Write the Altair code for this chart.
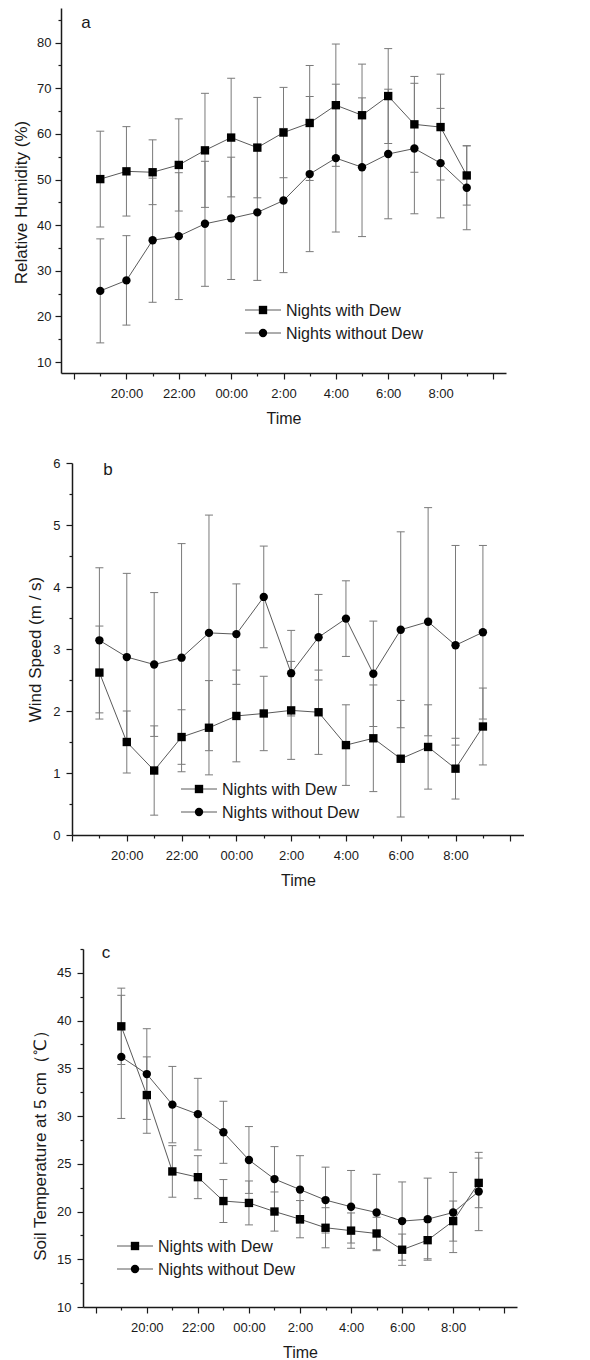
import altair as alt
import pandas as pd

# Hour of observation (19:00 on the first evening through 9:00 next morning)
hours = [19, 20, 21, 22, 23, 24, 25, 26, 27, 28, 29, 30, 31, 32, 33]
series_names = ["Nights with Dew", "Nights without Dew"]

# x-axis labels
tick_hours = [20, 22, 24, 26, 28, 30, 32]
tick_labels = ["20:00", "22:00", "00:00", "2:00", "4:00", "6:00", "8:00"]

# (a) relative humidity, % : mean and standard deviation
rh_dew = [50.1, 51.8, 51.6, 53.2, 56.4, 59.2, 57.0, 60.3, 62.4, 66.3, 64.1, 68.3, 62.1, 61.5, 50.9]
rh_dew_sd = [10.5, 9.8, 7.1, 10.1, 12.5, 13.0, 11.0, 9.9, 12.6, 13.4, 11.2, 10.4, 10.5, 11.6, 6.5]
rh_nodew = [25.6, 27.9, 36.7, 37.6, 40.3, 41.5, 42.8, 45.4, 51.2, 54.7, 52.7, 55.6, 56.8, 53.6, 48.2]
rh_nodew_sd = [11.4, 9.8, 13.6, 13.9, 13.7, 13.4, 14.9, 15.8, 17.0, 16.2, 15.2, 14.2, 14.3, 12.0, 9.2]

# (b) wind speed, m/s
ws_dew = [2.62, 1.50, 1.04, 1.58, 1.73, 1.92, 1.96, 2.01, 1.98, 1.45, 1.56, 1.23, 1.42, 1.07, 1.75]
ws_dew_sd = [0.75, 0.50, 0.72, 0.44, 0.76, 0.74, 0.60, 0.79, 0.68, 0.65, 0.86, 0.94, 0.68, 0.49, 0.62]
ws_nodew = [3.14, 2.87, 2.75, 2.86, 3.26, 3.24, 3.84, 2.61, 3.19, 3.49, 2.60, 3.31, 3.44, 3.06, 3.27]
ws_nodew_sd = [1.17, 1.35, 1.16, 1.84, 1.90, 0.81, 0.82, 0.69, 0.69, 0.61, 0.85, 1.58, 1.84, 1.61, 1.40]

# (c) soil temperature at 5 cm, degrees C
st_dew = [39.4, 32.2, 24.2, 23.6, 21.1, 20.9, 20.0, 19.2, 18.3, 18.0, 17.7, 16.0, 17.0, 19.0, 23.0]
st_dew_sd = [4.0, 4.0, 2.7, 2.25, 2.25, 2.3, 2.05, 1.95, 2.1, 1.85, 1.7, 1.64, 1.95, 2.1, 2.6]
st_nodew = [36.2, 34.4, 31.2, 30.2, 28.3, 25.4, 23.4, 22.3, 21.2, 20.5, 19.9, 19.0, 19.2, 19.9, 22.1]
st_nodew_sd = [6.45, 4.75, 4.0, 3.75, 3.25, 3.5, 3.4, 3.55, 3.45, 3.8, 4.0, 4.1, 4.3, 4.2, 4.1]

FONT = "Liberation Sans"
INK = "#1a1a1a"
BAR = "#7a7a7a"
LINE = "#5a5a5a"


def frame(dew, dew_sd, nodew, nodew_sd):
    rows = []
    for name, means, sds in ((series_names[0], dew, dew_sd), (series_names[1], nodew, nodew_sd)):
        for h, m, s in zip(hours, means, sds):
            rows.append({"hour": h, "series": name, "mean": m,
                         "lo": round(m - s, 3), "hi": round(m + s, 3)})
    return pd.DataFrame(rows)


x_label_expr = " : ".join(
    f"datum.value == {h} ? '{t}'" for h, t in zip(tick_hours, tick_labels)
) + " : ''"


def panel(df, letter, y_title, y_domain, y_values, major_step, x_domain,
          width, height, letter_xy, legend_xy, label_pad, title_pad, title_y):
    major = f"abs(datum.value / {major_step} - round(datum.value / {major_step})) < 0.001"
    x_axis = alt.Axis(
        title="Time", values=list(range(18, 35)), labelExpr=x_label_expr,
        tickSize={"condition": {"test": "datum.value % 2 == 0", "value": 6}, "value": 3},
        labelPadding=8, titlePadding=10, titleFontSize=16,
    )
    y_axis = alt.Axis(
        title=y_title, values=y_values, labelExpr=f"{major} ? format(datum.value, 'd') : ''",
        tickSize={"condition": {"test": major, "value": 6}, "value": 3},
        labelPadding=label_pad, titlePadding=title_pad, titleFontSize=17, titleY=title_y,
    )
    xs = alt.Scale(domain=x_domain, nice=False, zero=False)
    ys = alt.Scale(domain=y_domain, nice=False, zero=False)

    def X():
        return alt.X("hour:Q", scale=xs, axis=x_axis)

    def Y(field):
        return alt.Y(f"{field}:Q", scale=ys, axis=y_axis)

    base = alt.Chart(df)
    bars = base.mark_rule(color=BAR, strokeWidth=1).encode(x=X(), y=Y("lo"), y2="hi:Q")
    cap_lo = base.mark_rule(color=BAR, strokeWidth=1, xOffset=-4, x2Offset=4).encode(
        x=X(), x2="hour:Q", y=Y("lo"))
    cap_hi = base.mark_rule(color=BAR, strokeWidth=1, xOffset=-4, x2Offset=4).encode(
        x=X(), x2="hour:Q", y=Y("hi"))
    line = base.mark_line(color=LINE, strokeWidth=1).encode(
        x=X(), y=Y("mean"), detail="series:N")
    pts = base.mark_point(filled=True, size=70, opacity=1, color="black").encode(
        x=X(), y=Y("mean"),
        shape=alt.Shape("series:N", scale=alt.Scale(domain=series_names, range=["square", "circle"]),
                        legend=None),
    )
    tag = alt.Chart(pd.DataFrame({"t": [letter]})).mark_text(
        font=FONT, fontSize=17, color=INK, align="center", baseline="alphabetic"
    ).encode(x=alt.value(letter_xy[0]), y=alt.value(letter_xy[1]), text="t:N")

    # in-plot key: a short line with its marker, then the series name
    lx, ly = legend_xy
    key = []
    for i, (name, shape) in enumerate(zip(series_names, ["square", "circle"])):
        yy = ly + i * 23
        kd = alt.Chart(pd.DataFrame({"s": [name]}))
        key.append(kd.mark_rule(color=LINE, strokeWidth=1).encode(
            x=alt.value(lx), x2=alt.value(lx + 36), y=alt.value(yy)))
        key.append(kd.mark_point(shape=shape, filled=True, size=70, opacity=1, color="black").encode(
            x=alt.value(lx + 18), y=alt.value(yy)))
        key.append(kd.mark_text(font=FONT, fontSize=16, color=INK, align="left", baseline="middle").encode(
            x=alt.value(lx + 41), y=alt.value(yy + 1), text="s:N"))

    return alt.layer(bars, cap_lo, cap_hi, line, pts, tag, *key).properties(width=width, height=height)


def spacer(w):
    return alt.Chart(pd.DataFrame({"t": [""]})).mark_text().encode(
        x=alt.value(0), y=alt.value(0), text="t:N").properties(width=w, height=1)


pa = panel(frame(rh_dew, rh_dew_sd, rh_nodew, rh_nodew_sd), "a", "Relative Humidity (%)",
           [7.6, 87.6], [v * 5 for v in range(2, 18)], 10, [17.5, 34.5],
           445, 365, (25, 20), (184, 302), 4, 6, 194)
pb = panel(frame(ws_dew, ws_dew_sd, ws_nodew, ws_nodew_sd), "b", "Wind Speed (m / s)",
           [0, 6], [v * 0.5 for v in range(0, 13)], 1, [18, 34.5],
           452, 372, (36, 12), (109, 326), 6, 8, 186)
pc = panel(frame(st_dew, st_dew_sd, st_nodew, st_nodew_sd), "c", "Soil Temperature at 5 cm（℃）",
           [10, 47.5], [v * 2.5 for v in range(4, 20)], 5, [17.5, 34.5],
           434, 358, (23, 9), (34, 297), 6, 7, 192)

row_a = alt.hconcat(spacer(12), pa, spacing=0)
row_b = alt.hconcat(spacer(26), pb, spacing=0)
row_c = alt.hconcat(spacer(31), pc, spacing=0)

chart = alt.vconcat(
    alt.vconcat(row_a, row_b, spacing=31), row_c, spacing=55
).properties(
    padding={"left": 0, "top": 2, "right": 0, "bottom": 0}
).configure_view(strokeWidth=0).configure_axis(
    grid=False, domainColor=INK, domainWidth=1.5, tickColor=INK, tickWidth=1.2,
    labelFont=FONT, labelFontSize=13, labelColor=INK,
    titleFont=FONT, titleFontWeight="normal", titleColor=INK,
).configure_concat(spacing=0)

chart.save("out.html", embed_options={"renderer": "svg", "actions": False})
